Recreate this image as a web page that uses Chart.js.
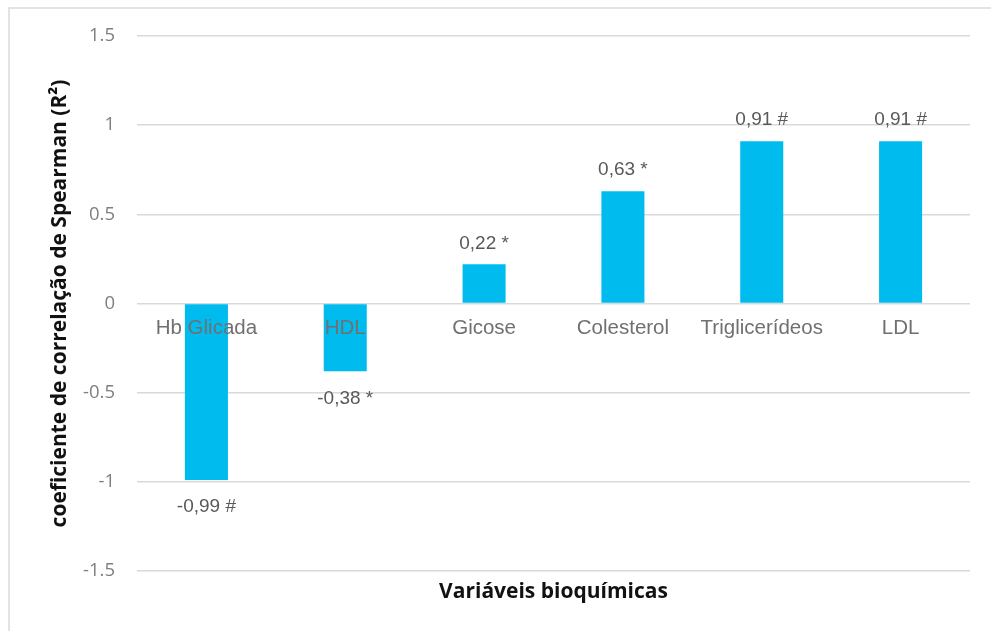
<!DOCTYPE html>
<html>
<head>
<meta charset="utf-8">
<script src="https://cdn.jsdelivr.net/npm/chart.js@4"></script>
<style>
  html, body { margin: 0; padding: 0; background: #fff; }
  #wrap { position: relative; width: 991px; height: 631px; }
  #frame { position: absolute; left: 8px; top: 7px; right: -5px; bottom: -5px;
           border-top: 2px solid #e3e3e3; border-left: 2px solid #e3e3e3; pointer-events: none; }
</style>
</head>
<body>
<div id="wrap">
  <canvas id="chart" width="991" height="631"></canvas>
  <div id="frame"></div>
</div>
<script>
// Spearman correlation per biochemical variable
const categories = ['Hb Glicada', 'HDL', 'Gicose', 'Colesterol', 'Triglicerídeos', 'LDL'];
const values = [-0.99, -0.38, 0.22, 0.63, 0.91, 0.91];
const valueLabels = ['-0,99 #', '-0,38 *', '0,22 *', '0,63 *', '0,91 #', '0,91 #'];
const yTicks = [-1.5, -1, -0.5, 0, 0.5, 1, 1.5];
const yTickLabels = ['-1.5', '-1', '-0.5', '0', '0.5', '1', '1.5'];

// value text above positive bars, below negative ones
const barLabels = {
    id: 'barLabels',
    afterDatasetsDraw(chart) {
        const ctx = chart.ctx;
        const meta = chart.getDatasetMeta(0);
        ctx.save();
        ctx.font = '19px "Liberation Sans", Arial, sans-serif';
        ctx.fillStyle = '#595959';
        ctx.textAlign = 'center';
        ctx.textBaseline = 'middle';
        meta.data.forEach((bar, i) => {
            const up = values[i] >= 0;
            ctx.fillText(valueLabels[i], bar.x, up ? bar.y - 21 : bar.y + 27);
        });
        ctx.restore();
    }
};

new Chart(document.getElementById('chart'), {
    type: 'bar',
    data: {
        labels: categories,
        datasets: [{
            data: values,
            backgroundColor: '#00BCEE',
            barPercentage: 0.31,
            categoryPercentage: 1,
            xAxisID: 'x'
        }]
    },
    options: {
        responsive: false,
        animation: false,
        layout: { padding: { top: 36, right: 21, bottom: 0, left: 0 } },
        plugins: { legend: { display: false }, tooltip: { enabled: false } },
        scales: {
            x: {
                type: 'category',
                position: { y: 0 },
                offset: true,
                grid: { display: false },
                border: { display: false },
                ticks: {
                    z: 1,
                    color: '#707070',
                    font: { family: '"Liberation Sans", Arial, sans-serif', size: 20.5 },
                    padding: 5,
                    maxRotation: 0,
                    autoSkip: false
                }
            },
            x2: {
                type: 'category',
                labels: categories,
                position: 'bottom',
                grid: { display: false },
                border: { display: false },
                ticks: { display: false },
                title: {
                    display: true,
                    text: 'Variáveis bioquímicas',
                    color: '#111',
                    font: { family: '"Open Sans", sans-serif', size: 21, weight: 'bold' },
                    padding: { top: 0, bottom: 26 }
                },
                afterFit(scale) { scale.height = 60; }
            },
            y: {
                min: -1.5,
                max: 1.5,
                grid: { color: '#d9d9d9', lineWidth: 1.5, drawTicks: false },
                border: { display: false },
                afterBuildTicks(scale) { scale.ticks = yTicks.map(v => ({ value: v })); },
                afterFit(scale) { scale.width = 137; },
                ticks: {
                    color: '#7f7f7f',
                    padding: 22,
                    font: { family: '"Open Sans", sans-serif', size: 18.5 },
                    callback: (v) => yTickLabels[yTicks.indexOf(v)]
                },
                title: {
                    display: true,
                    text: 'coeficiente de correlação de Spearman (R²)',
                    color: '#111',
                    font: { family: '"Open Sans", sans-serif', size: 21, weight: 'bold' },
                    padding: { top: 47, bottom: 0 }
                }
            }
        }
    },
    plugins: [barLabels]
});
</script>
</body>
</html>
